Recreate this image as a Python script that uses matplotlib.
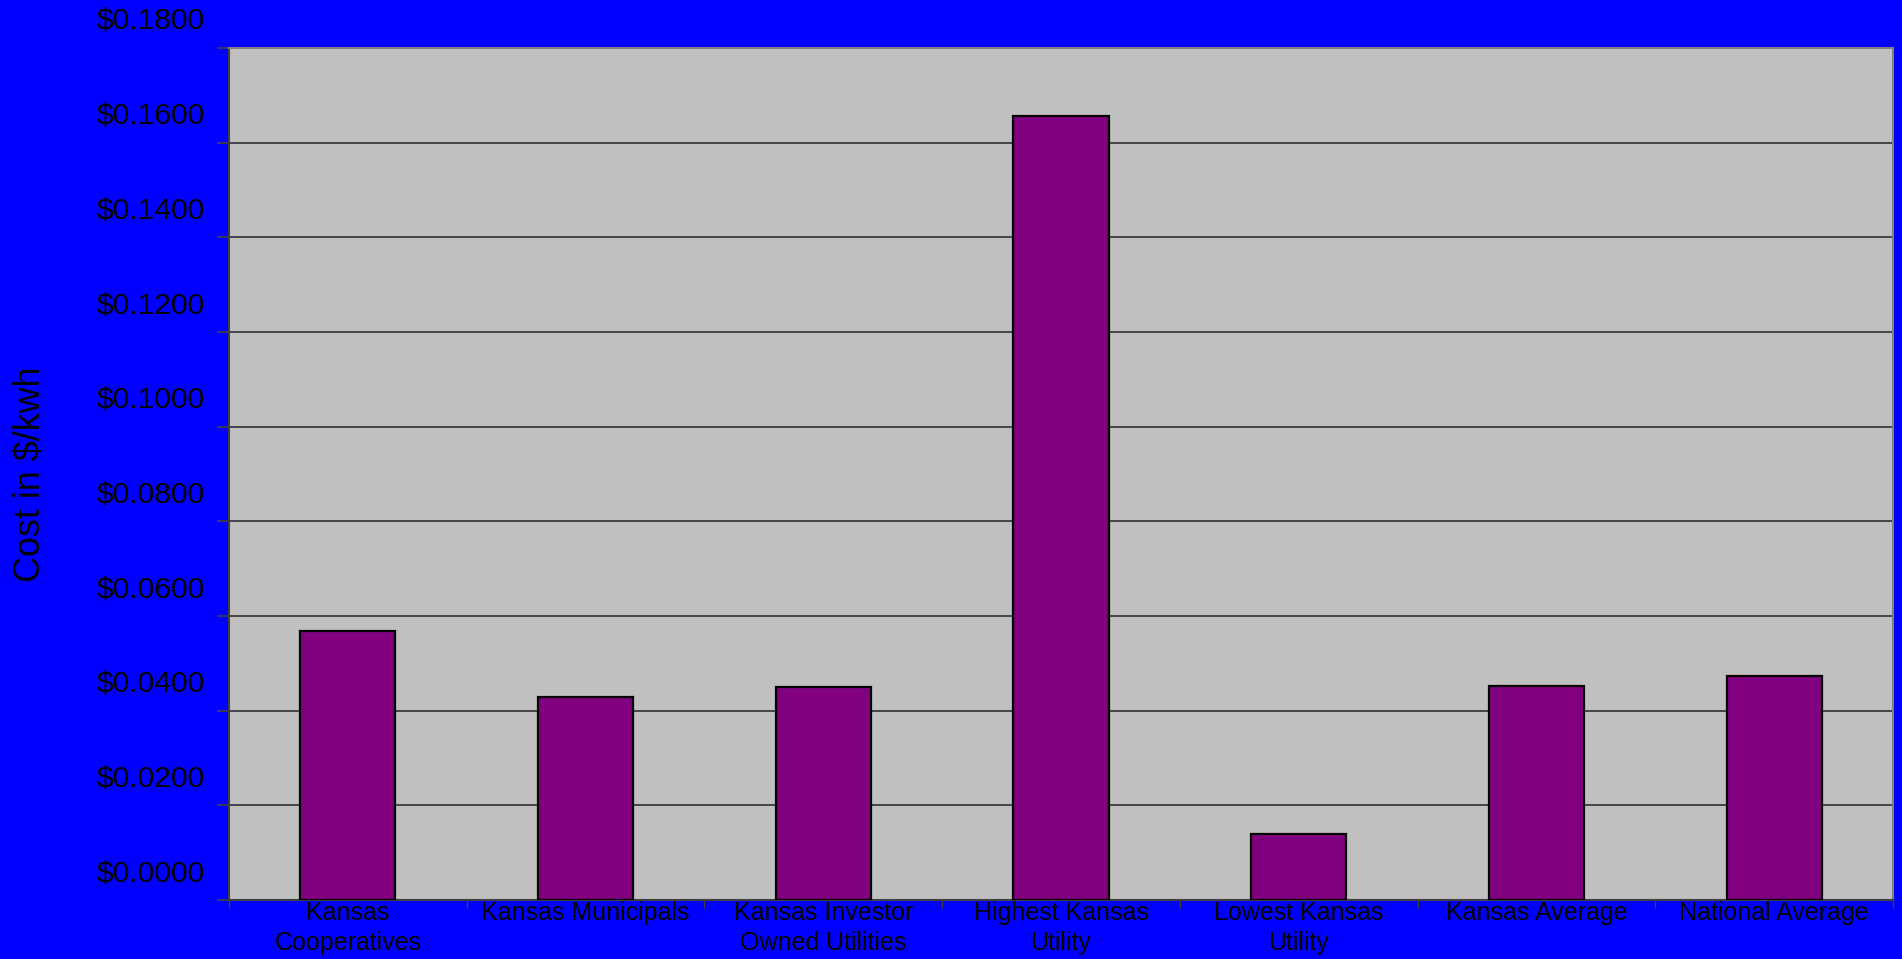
import matplotlib
matplotlib.use("Agg")
import matplotlib.pyplot as plt
import numpy as np

categories = ["Kansas\nCooperatives", "Kansas Municipals", "Kansas Investor\nOwned Utilities",
              "Highest Kansas\nUtility", "Lowest Kansas\nUtility", "Kansas Average", "National Average"]
costs = [0.0569, 0.0429, 0.0449, 0.1656, 0.0139, 0.0453, 0.0473]
ytick_values = [0.00, 0.02, 0.04, 0.06, 0.08, 0.10, 0.12, 0.14, 0.16, 0.18]
ytick_labels = ["$%.4f" % v for v in ytick_values]
ylabel = "Cost in $/kwh"

plt.rcParams['font.family'] = ['Liberation Sans', 'DejaVu Sans']

fig = plt.figure(figsize=(19.02, 9.59), dpi=100, facecolor='#0000FF')
ax = fig.add_axes([229/1902, 1-900/959, (1893-229)/1902, (900-48)/959])
ax.set_facecolor('#C0C0C0')

x = np.arange(len(categories))
ax.bar(x, costs, width=0.40, color='#800080', edgecolor='black', linewidth=1.6, zorder=3)

ax.set_xlim(-0.5, len(categories) - 0.5)
ax.set_ylim(0, 0.18)

# gridlines
ax.set_yticks(ytick_values)
ax.yaxis.grid(True, color='#3a3a3a', linewidth=1.3, zorder=1)
ax.set_axisbelow(True)
ax.tick_params(axis='y', direction='out', length=9, width=1.2, color='#404040', labelleft=False)

# y tick labels drawn offset above the gridlines (as in the reference)
for v, lab in zip(ytick_values, ytick_labels):
    ax.annotate(lab, xy=(0, v), xycoords=('axes fraction', 'data'),
                xytext=(-24, 27), textcoords='offset pixels',
                ha='right', va='center', fontsize=21.6, color='black',
                annotation_clip=False)

# x axis: category labels, tick marks at boundaries
ax.set_xticks(x)
ax.set_xticklabels(categories, fontsize=18, linespacing=1.32)
ax.tick_params(axis='x', which='major', length=0, pad=1)
ax.set_xticks(np.arange(len(categories) + 1) - 0.5, minor=True)
ax.tick_params(axis='x', which='minor', direction='out', length=6, width=1.0, color='#404040')

for side in ['top', 'right']:
    ax.spines[side].set_color('#808080')
    ax.spines[side].set_linewidth(1.5)
for side in ['left', 'bottom']:
    ax.spines[side].set_color('#404040')
    ax.spines[side].set_linewidth(1.5)

fig.text(31/1902, 1-474/959, ylabel, rotation=90, ha='center', va='center',
         fontsize=25.8, color='black')

fig.savefig('out.png', dpi=100, facecolor=fig.get_facecolor())
